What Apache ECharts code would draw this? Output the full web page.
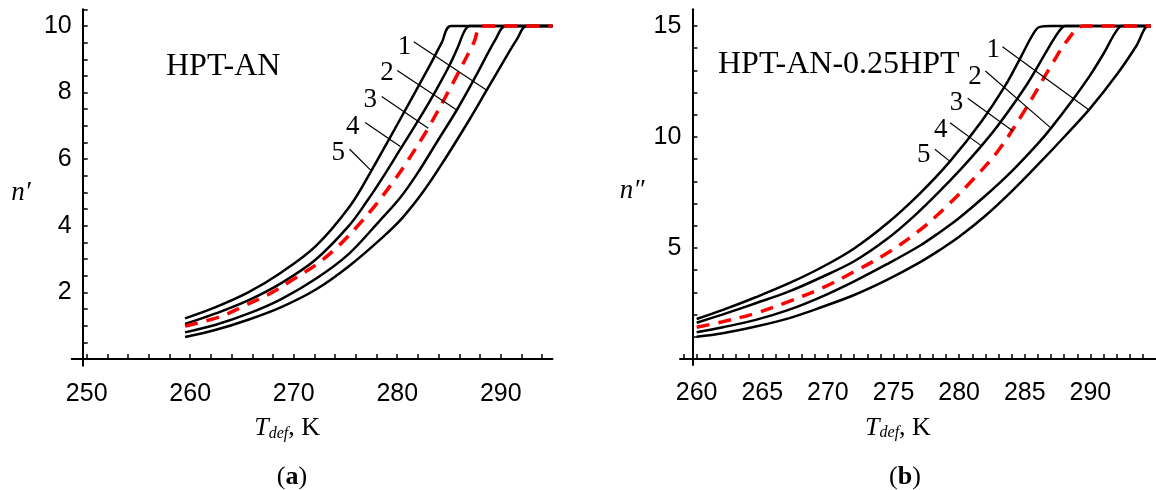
<!DOCTYPE html>
<html>
<head>
<meta charset="utf-8">
<script src="https://cdn.jsdelivr.net/npm/echarts@6.0.0/dist/echarts.min.js"></script>
<style>
  html, body { margin: 0; padding: 0; background: #fff; }
  #chart { width: 1156px; height: 490px; }
</style>
</head>
<body>
<div id="chart"></div>
<script>
// ---- (a) HPT-AN : n' vs T_def ----
const curveA1 = [[259.5,0.66],[262.4,0.87],[265.6,1.18],[268.8,1.56],[272.1,2.08],[275.3,2.78],[278.5,3.63],[280.5,4.24],[282.5,5.02],[284.4,5.9],[287.0,7.2],[288.6,8.05],[290.2,8.9],[291.6,9.62],[292.5,10],[295,10]]
const curveA2 = [[259.5,0.80],[262.4,1.02],[265.6,1.36],[268.8,1.80],[272.1,2.40],[275.3,3.15],[278.3,4.15],[280.3,4.85],[281.9,5.55],[284.0,6.6],[285.8,7.5],[287.6,8.5],[289.5,9.6],[290.5,10],[295,10]]
const curveA3 = [[259.5,0.99],[262.9,1.27],[265.1,1.58],[267.5,1.93],[270.0,2.40],[272.2,2.84],[274.2,3.36],[276.1,3.97],[278.0,4.66],[279.6,5.32],[280.9,5.9],[283.0,6.94],[285.4,8.3],[287.4,9.5],[288.2,10],[295,10]]
const curveA4 = [[259.5,1.05],[262.4,1.36],[265.6,1.76],[268.8,2.28],[272.1,2.98],[275.3,3.99],[277.1,4.75],[278.7,5.5],[280.3,6.3],[282.3,7.3],[283.8,8.1],[285.1,8.85],[285.9,9.4],[286.5,9.85],[287.0,10],[295,10]]
const curveA5 = [[259.5,1.22],[262.4,1.55],[265.6,2.0],[268.8,2.6],[272.1,3.38],[275.4,4.58],[277.4,5.6],[279.3,6.65],[281.0,7.6],[283.2,8.85],[284.3,9.5],[285.2,10],[295,10]]
const tagsA = [[280.7,9.38,'1'],[279.0,8.58,'2'],[277.4,7.78,'3'],[275.7,6.98,'4'],[274.3,6.18,'5']]
const leadersA = [[[281.6,9.53],[288.65,8.07]],[[280.0,8.66],[285.75,7.48]],[[278.5,7.88],[283.0,6.93]],[[276.9,7.10],[280.3,6.38]],[[275.4,6.3],[277.5,5.65]]]
const xTicksA = [250,252,254,256,258,260,262,264,266,268,270,272,274,276,278,280,282,284,286,288,290,292,294]
const xLabelsA = [250,260,270,280,290]
const yTicksA = [0.5,1,1.5,2,2.5,3,3.5,4,4.5,5,5.5,6,6.5,7,7.5,8,8.5,9,9.5,10,10.5]
const yLabelsA = [2,4,6,8,10]

// ---- (b) HPT-AN-0.25HPT : n'' vs T_def ----
const curveB1 = [[260,1.00],[262,1.16],[264.5,1.46],[267,1.83],[269.5,2.33],[272,2.88],[274.5,3.56],[277,4.35],[278.5,4.9],[280,5.5],[282,6.45],[284,7.55],[286,8.75],[288,10.0],[290,11.3],[292,12.8],[293.5,14.1],[294.4,15],[294.6,15]]
const curveB2 = [[260,1.20],[262,1.43],[264.5,1.76],[267,2.21],[269.5,2.8],[272,3.5],[274.5,4.27],[277,5.1],[278.5,5.7],[280,6.35],[282,7.35],[284,8.45],[286,9.7],[287,10.4],[288.5,11.55],[290,12.8],[291,13.75],[291.9,14.7],[292.4,15],[294.6,15]]
const curveB3 = [[260,1.43],[262,1.68],[264.5,2.06],[267,2.58],[269.5,3.18],[272,3.93],[274.5,4.76],[277,5.8],[279,6.85],[281,8.05],[283,9.4],[285,11.2],[287,13.2],[288.3,14.4],[289.5,15],[294.6,15]]
const curveB4 = [[260,1.63],[262,2.01],[264.5,2.51],[267,3.03],[269.5,3.68],[272,4.4],[274.5,5.4],[276.5,6.4],[278.5,7.55],[280.2,8.6],[281.7,9.6],[283,10.55],[285.2,12.4],[286.7,13.9],[287.6,14.75],[288.1,15],[294.6,15]]
const curveB5 = [[260,1.80],[262,2.21],[264.5,2.78],[267,3.4],[269.5,4.12],[272,4.98],[274.5,6.1],[277,7.45],[279.3,8.9],[281.7,10.7],[283.5,12.3],[284.7,13.6],[285.6,14.6],[286.1,14.95],[287,15],[294.6,15]]
const tagsB = [[282.6,13.92,'1'],[281.2,12.72,'2'],[279.8,11.52,'3'],[278.6,10.32,'4'],[277.3,9.19,'5']]
const leadersB = [[[283.3,14.07],[289.9,11.22]],[[282.0,12.97],[287.0,10.4]],[[280.65,11.74],[284.1,10.27]],[[279.3,10.64],[281.7,9.6]],[[278.15,9.45],[279.3,8.9]]]
const xTicksB = [259,260,261,262,263,264,265,266,267,268,269,270,271,272,273,274,275,276,277,278,279,280,281,282,283,284,285,286,287,288,289,290,291,292,293,294]
const xLabelsB = [260,265,270,275,280,285,290]
const yTicksB = [1,2,3,4,5,6,7,8,9,10,11,12,13,14,15]
const yLabelsB = [5,10,15]

const SANS = "'Liberation Sans', Arial, sans-serif"
const SERIF = "'Liberation Serif', 'Times New Roman', serif"

const chart = echarts.init(document.getElementById('chart'), null, { renderer: 'canvas' })

// 轴的公共样式
function xAxisOf(gridIndex, min, ticks, labels, pad) {
  return {
    type: 'value', gridIndex, min, max: 295,
    axisLine: { onZero: true, lineStyle: { color: '#000', width: 2 } },
    axisTick: { inside: true, length: 5, customValues: ticks, lineStyle: { color: '#000', width: 1.5 } },
    axisLabel: { customValues: labels, margin: 16, color: '#000', fontSize: 25, fontFamily: SANS },
    splitLine: { show: false },
    name: '{t|T}{s|def}{k|, K}',
    nameLocation: 'middle',
    nameGap: 50,
    nameTextStyle: {
      padding: [0, pad, 0, 0],
      rich: {
        t: { fontFamily: SERIF, fontStyle: 'italic', fontSize: 26, color: '#000', verticalAlign: 'bottom' },
        s: { fontFamily: SERIF, fontStyle: 'italic', fontSize: 16, color: '#000', verticalAlign: 'bottom' },
        k: { fontFamily: SERIF, fontSize: 26, color: '#000', verticalAlign: 'bottom' },
      },
    },
  }
}
function yAxisOf(gridIndex, min, max, offset, ticks, labels) {
  return {
    type: 'value', gridIndex, min, max, offset,
    axisLine: { lineStyle: { color: '#000', width: 2 } },
    axisTick: { inside: true, length: 5, customValues: ticks, lineStyle: { color: '#000', width: 1.5 } },
    axisLabel: { customValues: labels, margin: 11, color: '#000', fontSize: 25, fontFamily: SANS },
    splitLine: { show: false },
  }
}
function curve(data, idx, dashed) {
  return {
    type: 'line', data, xAxisIndex: idx, yAxisIndex: idx,
    showSymbol: false, smooth: 0.35, z: dashed ? 4 : 3,
    lineStyle: dashed ? { color: '#ff0000', width: 3.5, type: [13, 9] } : { color: '#000', width: 2.5 },
  }
}
function tags(data, leaders, idx) {
  return {
    type: 'scatter', data, xAxisIndex: idx, yAxisIndex: idx, symbolSize: 0, z: 5,
    itemStyle: { opacity: 1 },
    label: { show: true, position: 'inside', formatter: (p) => p.value[2], color: '#000', fontSize: 27, fontFamily: SERIF },
    markLine: {
      silent: true, symbol: ['none', 'none'], label: { show: false },
      lineStyle: { color: '#000', width: 1.2, type: 'solid', opacity: 1 },
      data: leaders.map(([a, b]) => [{ coord: a }, { coord: b }]),
    },
  }
}

const option = {
  animation: false,
  backgroundColor: '#fff',
  grid: [
    { left: 71.7, top: 9.35, width: 480.8, height: 356.3 },
    { left: 680, top: 9.35, width: 484.2, height: 355.6 },
  ],
  xAxis: [xAxisOf(0, 248.55, xTicksA, xLabelsA, 50), xAxisOf(1, 258.73, xTicksB, xLabelsB, 40)],
  yAxis: [yAxisOf(0, -0.2, 10.5, -11, yTicksA, yLabelsA), yAxisOf(1, -0.27, 15.75, -12.4, yTicksB, yLabelsB)],
  series: [
    curve(curveA1, 0), curve(curveA2, 0), curve(curveA4, 0), curve(curveA5, 0), curve(curveA3, 0, true),
    tags(tagsA, leadersA, 0),
    curve(curveB1, 1), curve(curveB2, 1), curve(curveB4, 1), curve(curveB5, 1), curve(curveB3, 1, true),
    tags(tagsB, leadersB, 1),
  ],
  graphic: [
    { type: 'text', x: 166, y: 66.7, style: { text: 'HPT-AN', fontSize: 32, fontFamily: SERIF, fill: '#000', align: 'left', verticalAlign: 'middle' } },
    { type: 'text', x: 718, y: 65, style: { text: 'HPT-AN-0.25HPT', fontSize: 32, fontFamily: SERIF, fill: '#000', align: 'left', verticalAlign: 'middle' } },
    { type: 'text', x: 21, y: 193, style: { text: 'n\u2032', fontSize: 27, fontStyle: 'italic', fontFamily: SERIF, fill: '#000', align: 'center', verticalAlign: 'middle' } },
    { type: 'text', x: 632, y: 191, style: { text: 'n\u2033', fontSize: 27, fontStyle: 'italic', fontFamily: SERIF, fill: '#000', align: 'center', verticalAlign: 'middle' } },
    { type: 'text', x: 292, y: 477, style: { text: '({b|a})', fontSize: 26, fontFamily: SERIF, fill: '#000', align: 'center', verticalAlign: 'middle',
      rich: { b: { fontSize: 26, fontFamily: SERIF, fontWeight: 'bold', fill: '#000' } } } },
    { type: 'text', x: 905, y: 477, style: { text: '({b|b})', fontSize: 26, fontFamily: SERIF, fill: '#000', align: 'center', verticalAlign: 'middle',
      rich: { b: { fontSize: 26, fontFamily: SERIF, fontWeight: 'bold', fill: '#000' } } } },
  ],
}
chart.setOption(option)
</script>
</body>
</html>
